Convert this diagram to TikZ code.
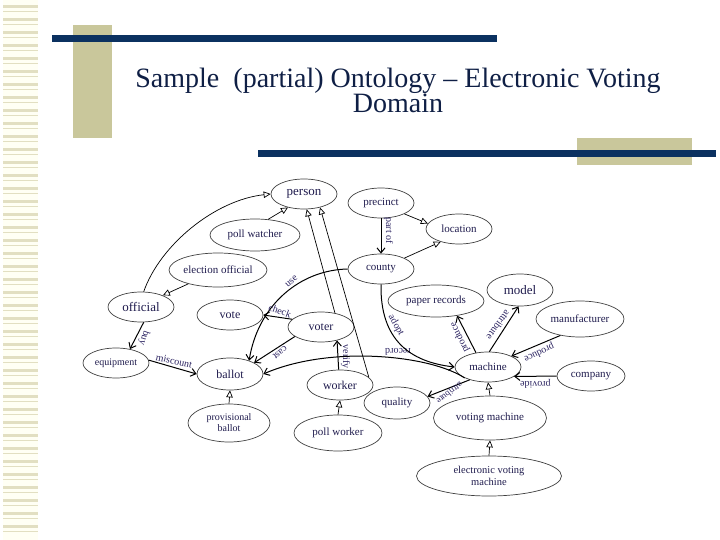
\documentclass[tikz,border=0pt]{standalone}
\usepackage{fontspec}
\setmainfont{Liberation Serif}
\usetikzlibrary{shapes.geometric, arrows.meta}

\begin{document}
\begin{tikzpicture}[x=1pt, y=-1pt,
    concept/.style={ellipse, draw=outlineColour, line width=0.7pt, inner sep=0pt,
        minimum width=66pt, minimum height=30pt, align=center, text=nodeTextColour,
        font=\fontsize{11}{11.5}\selectfont},
    bigconcept/.style={concept, font=\fontsize{13}{14}\selectfont},
    isa/.style={draw=black, line width=0.7pt, -{Triangle[open, length=7pt, width=6.5pt, fill=white]}},
    rel/.style={draw=black, line width=1pt, -{Straight Barb[length=5pt, width=8pt]}},
    lbl/.style={font=\fontsize{10}{10}\selectfont, text=labelColour, inner sep=2.5pt},
    titletext/.style={font=\fontsize{28}{28}\selectfont, text=titleColour, inner sep=0pt}]
    % Define colours
    \definecolor{navyColour}{HTML}{0B3160}
    \definecolor{tanColour}{HTML}{C9C79B}
    \definecolor{stripeColour}{HTML}{E2DFC2}
    \definecolor{paleColour}{HTML}{FFFFF4}
    \definecolor{outlineColour}{HTML}{404040}
    \definecolor{nodeTextColour}{HTML}{1F1B4D}
    \definecolor{labelColour}{HTML}{2A2260}
    \definecolor{titleColour}{HTML}{0F1F45}

    % Fix page size
    \useasboundingbox (0,0) rectangle (720,540);

    % Draw side stripes
    \fill[paleColour] (3,0) rectangle (38,540);
    \foreach \y in {5,18,...,535}
        \fill[stripeColour] (3,\y) rectangle (38,\y+3);
    \foreach \y in {11,24,...,535}
        \draw[stripeColour, line width=0.6pt] (3,\y) -- (38,\y);

    % Draw header bars
    \fill[tanColour] (73,25) rectangle (112,138);
    \fill[tanColour] (577,138) rectangle (692,165);
    \fill[navyColour] (52,35) rectangle (497,42);
    \fill[navyColour] (258,150) rectangle (716,157);

    % Title
    \node[titletext, anchor=base] (titleA) at (398,88) {Sample\ \ (partial) Ontology – Electronic Voting};
    \node[titletext, anchor=base] (titleB) at (398,113) {Domain};

    % Concepts
    \node[bigconcept] (person) at (304,194) {person};
    \node[concept] (precinct) at (381,203) {precinct};
    \node[concept] (location) at (459,229) {location};
    \node[concept, minimum width=90pt, minimum height=32pt] (pollwatcher) at (255,235) {poll watcher};
    \node[concept, minimum width=98pt, minimum height=34pt] (electionofficial) at (218,270) {election official};
    \node[concept] (county) at (381,269) {county};
    \node[bigconcept] (official) at (141,307) {official};
    \node[concept, font=\fontsize{12}{13}\selectfont] (vote) at (230,315) {vote};
    \node[concept, font=\fontsize{12}{13}\selectfont] (voter) at (321,327) {voter};
    \node[concept, minimum width=96pt, minimum height=32pt] (paperrecords) at (436,301) {paper records};
    \node[bigconcept, minimum height=32pt] (model) at (520,290) {model};
    \node[concept, minimum width=88pt, minimum height=36pt] (manufacturer) at (580,319) {manufacturer};
    \node[concept, font=\fontsize{10}{11}\selectfont] (equipment) at (116,363) {equipment};
    \node[concept, minimum height=32pt, font=\fontsize{12}{13}\selectfont] (ballot) at (230,374) {ballot};
    \node[concept, font=\fontsize{12}{13}\selectfont] (worker) at (340,385) {worker};
    \node[concept] (machine) at (488,367) {machine};
    \node[concept, minimum width=68pt] (company) at (591,376) {company};
    \node[concept, minimum height=32pt] (quality) at (397,403) {quality};
    \node[concept, minimum width=82pt, minimum height=38pt, font=\fontsize{10}{11}\selectfont] (provisionalballot) at (229,423) {provisional\\ballot};
    \node[concept, minimum width=88pt, minimum height=36pt] (pollworker) at (338,433) {poll worker};
    \node[concept, minimum width=113pt, minimum height=44pt] (votingmachine) at (490,418) {voting machine};
    \node[concept, minimum width=145pt, minimum height=40pt, font=\fontsize{10.5}{12}\selectfont] (evmachine) at (489,476) {electronic voting\\machine};

    % Is-a links
    \draw[isa] (official.80) .. controls (160,245) and (215,200) .. (person.west);
    \draw[isa] (pollwatcher.50) -- (person.-140);
    \draw[isa] (electionofficial.-155) -- (official.28);
    \draw[isa] (voter.45) -- (person.-80);
    \draw[isa] (worker.15) -- (person.-40);
    \draw[isa] (precinct.-25) -- (location.170);
    \draw[isa] (county.25) -- (location.-145);
    \draw[isa] (provisionalballot.north) -- (ballot.south);
    \draw[isa] (pollworker.north) -- (worker.south);
    \draw[isa] (votingmachine.north) -- (machine.south);
    \draw[isa] (evmachine.north) -- (votingmachine.south);

    % Relations
    \draw[rel] (precinct.south) -- node[lbl, pos=0.35, rotate=-90, above] {part of} (county.north);
    \draw[rel] (county.west) .. controls (300,270) and (258,305) .. node[lbl, pos=0.4, rotate=40, above] {use} (ballot.35);
    \draw[rel] (voter.165) -- node[lbl, pos=0.5, rotate=-20, above] {check} (vote.east);
    \draw[rel] (voter.200) -- node[lbl, pos=0.45, rotate=218, above] {cast} (ballot.25);
    \draw[rel] (official.-80) -- node[lbl, pos=0.5, rotate=-109, above] {buy} (equipment.45);
    \draw[rel] (equipment.5) -- node[lbl, pos=0.5, rotate=-12, above] {miscount} (ballot.west);
    \draw[rel] (worker.95) -- node[lbl, pos=0.45, rotate=-90, above] {verify} (voter.-40);
    \draw[rel] (machine.205) .. controls (430,355) and (330,345) .. node[lbl, pos=0.4, rotate=180, below] {record} (ballot.east);
    \draw[rel] (county.south) .. controls (380,340) and (410,362) .. node[lbl, pos=0.33, rotate=-60, above] {adopt} (machine.west);
    \draw[rel] (machine.130) -- node[lbl, pos=0.5, rotate=116, above] {produce} (paperrecords.-35);
    \draw[rel] (machine.85) -- node[lbl, pos=0.5, rotate=234, below] {attribute} (model.-95);
    \draw[rel] (manufacturer.-140) -- node[lbl, pos=0.5, rotate=205, above] {produce} (machine.25);
    \draw[rel] (company.west) -- node[lbl, pos=0.5, rotate=180, above] {provide} (machine.-20);
    \draw[rel] (machine.215) -- node[lbl, pos=0.55, rotate=217, above, font=\fontsize{9}{9}\selectfont, inner sep=1.5pt] {attribute} (quality.12);

\end{tikzpicture}
\end{document}
